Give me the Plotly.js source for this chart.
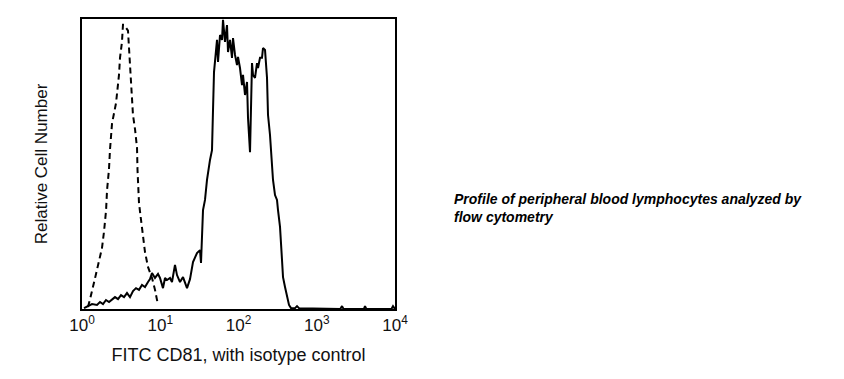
<!DOCTYPE html>
<html>
<head>
<meta charset="utf-8">
<script src="https://cdn.plot.ly/plotly-3.0.1.min.js"></script>
<style>
html,body{margin:0;padding:0;background:#fff;}
#chart{width:844px;height:379px;}
</style>
</head>
<body>
<div id="chart"></div>
<script>
// CD81 stained sample (solid line): fluorescence intensity vs relative count
const cd81X = [1.061,1.193,1.342,1.555,1.698,1.855,2.026,2.214,2.418,2.641,2.885,3.151,3.442,3.759,4.106,4.486,4.899,5.352,5.846,6.385,
  6.974,7.396,7.846,8.568,9.361,9.927,10.84,11.50,12.20,13.32,14.13,15.43,16.37,17.88,19.54,21.98,24.00,26.22,29.49,32.21,
  33.18,34.17,35.19,37.32,39.58,43.23,45.85,47.23,48.64,53.13,54.72,58.03,61.55,63.39,67.22,71.30,73.43,77.88,82.60,85.07,
  90.23,95.70,98.56,104.5,110.9,114.2,121.1,128.5,132.3,140.3,148.8,153.3,162.5,172.4,177.6,188.3,199.7,205.7,218.2,231.4,
  238.4,252.7,268.1,276.1,292.8,310.5,319.8,339.2,359.8,370.6,393.0,416.9,442.1,468.9,527.6,559.4,593.3,2000,2103,2200,
  4000,4138,4300,9000,9432,10000];
const cd81Y = [0.3,1.0,1.7,1.4,2.4,1.7,3.1,2.4,3.4,4.1,3.4,4.8,4.1,5.5,4.1,6.2,7.2,6.6,8.3,7.6,
  9.3,10.3,12.4,10.7,12.1,10.7,7.2,10.7,10.0,10.7,9.3,15.2,11.7,9.3,11.0,7.2,10.3,16.2,19.3,20.3,
  15.9,23.8,34.1,37.6,44.5,51.4,54.8,68.6,81.7,92.8,85.2,94.5,92.8,99.7,92.1,97.9,88.6,92.8,86.6,93.4,
  87.6,84.1,86.9,83.1,77.2,80.7,73.8,78.3,65.9,54.1,84.8,80.7,79.7,84.8,83.1,86.6,86.6,90.0,89.3,79.7,
  66.9,60.0,51.4,44.5,39.3,37.6,34.1,28.3,16.9,11.0,7.6,4.1,1.4,0.3,0.3,1.0,0.3,0,1.0,0,
  0,1.0,0,0,1.0,0];

// Isotype control (dashed line)
const isoX = [1.19,1.26,1.47,1.60,1.80,1.91,2.03,2.09,2.21,2.28,2.42,2.72,2.88,2.97,3.06,3.24,3.34,3.44,3.87,3.99,
  4.11,4.23,4.35,4.48,4.76,5.05,5.12,5.20,5.35,5.68,6.02,6.38,6.97,7.85,8.57,9.08,9.36];
const isoY = [0.7,3.1,10.7,15.2,21.0,26.6,34.0,41.0,48.0,55.0,64.0,71.0,76.6,80.7,86.6,92.0,98.0,98.0,96.0,90.0,
  84.0,78.0,73.0,67.0,62.0,55.5,48.0,42.0,36.6,30.7,24.8,19.7,14.5,10.7,6.6,3.1,1.4];

const tickVals = [1,10,100,1000,10000];
const tickText = ['10<sup>0</sup>','10<sup>1</sup>','10<sup>2</sup>','10<sup>3</sup>','10<sup>4</sup>'];

const xTitle = 'FITC CD81, with isotype control';
const yTitle = 'Relative Cell Number';
const caption = '<b><i>Profile of peripheral blood lymphocytes analyzed by<br>flow cytometry</i></b>';

const font = 'Liberation Sans, Arial, sans-serif';

const traces = [
  {x: isoX, y: isoY, type: 'scatter', mode: 'lines', name: 'Isotype control',
   line: {color: '#000', width: 2, dash: '6px,4px'}, hoverinfo: 'skip'},
  {x: cd81X, y: cd81Y, type: 'scatter', mode: 'lines', name: 'CD81',
   line: {color: '#000', width: 2}, hoverinfo: 'skip'}
];

const layout = {
  width: 844, height: 379,
  margin: {l: 82, r: 449, t: 19, b: 70},
  paper_bgcolor: '#fff', plot_bgcolor: '#fff',
  showlegend: false,
  font: {family: font, color: '#111', size: 17},
  xaxis: {
    type: 'log', range: [0, 4], tickvals: tickVals, ticktext: tickText,
    showgrid: false, zeroline: false, ticks: '', showline: true, linecolor: '#000',
    linewidth: 2, mirror: true, tickfont: {size: 17, family: font, color: '#111'},
    title: {text: xTitle, font: {size: 18, family: font, color: '#111'}, standoff: 14},
    automargin: false, fixedrange: true
  },
  yaxis: {
    range: [0, 100], showticklabels: false, showgrid: false, zeroline: false, ticks: '',
    showline: true, linecolor: '#000', linewidth: 2, mirror: true,
    title: {text: yTitle, font: {size: 17, family: font, color: '#111'}, standoff: 28},
    automargin: false, fixedrange: true
  },
  annotations: [{
    xref: 'paper', yref: 'paper', x: 1.182, y: 0.348, xanchor: 'left', yanchor: 'middle',
    align: 'left', showarrow: false, text: caption,
    font: {size: 14, family: font, color: '#000'}
  }]
};

Plotly.newPlot('chart', traces, layout, {displayModeBar: false, staticPlot: true});
</script>
</body>
</html>
